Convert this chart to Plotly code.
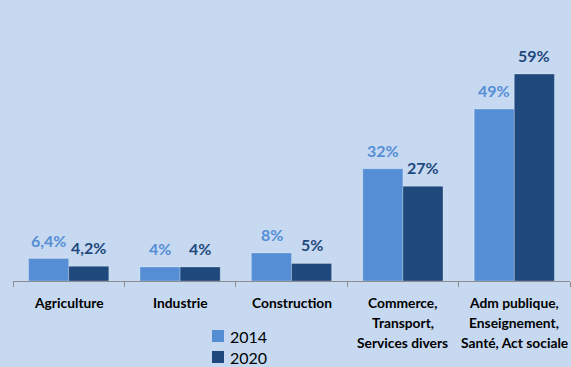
import plotly.graph_objects as go

categories = [
    "Agriculture",
    "Industrie",
    "Construction",
    "Commerce,<br>Transport,<br>Services divers",
    "Adm publique,<br>Enseignement,<br>Santé, Act sociale",
]
values_2014 = [6.4, 4, 8, 32, 49]
values_2020 = [4.2, 4, 5, 27, 59]
series_names = ["2014", "2020"]

BG = "#C6D9F1"
LIGHT = "#558ED5"
DARK = "#1F497D"
FONT = "Lato"


def pct(v):
    return f"{v:g}".replace(".", ",") + "%"


fig = go.Figure()
for name, vals, col in [(series_names[0], values_2014, LIGHT), (series_names[1], values_2020, DARK)]:
    fig.add_trace(go.Bar(
        name=name, x=categories, y=vals, showlegend=False,
        marker=dict(color=col, line=dict(color="rgba(255,255,255,0.25)", width=1)),
    ))

annotations = []
# value labels above each bar
for vals, col, shift in [(values_2014, LIGHT, -20), (values_2020, DARK, 20)]:
    for c, v in zip(categories, vals):
        annotations.append(dict(
            x=c, y=v, xref="x", yref="y", text=pct(v), showarrow=False,
            xshift=shift, yanchor="bottom", yshift=7,
            font=dict(family=FONT, size=16, color=col, weight="bold"),
        ))

# category labels under the axis, one annotation per line for wider line spacing
for c in categories:
    for i, line in enumerate(c.split("<br>")):
        annotations.append(dict(
            x=c, y=0, xref="x", yref="y", text=line, showarrow=False,
            yanchor="middle", yshift=-21 - 20 * i,
            font=dict(family=FONT, size=13.8, color="black", weight="bold"),
        ))

# legend: coloured squares with series names
shapes = []
for i, (name, col) in enumerate(zip(series_names, [LIGHT, DARK])):
    cy = 336 + 21 * i
    shapes.append(dict(
        type="rect", xref="paper", yref="paper",
        x0=(212 - 13) / 557, x1=(224 - 13) / 557,
        y0=(281 - (cy + 6)) / 228, y1=(281 - (cy - 6)) / 228,
        fillcolor=col, line=dict(width=0),
    ))
    annotations.append(dict(
        x=(228 - 13) / 557, y=(281 - cy) / 228, xref="paper", yref="paper",
        text=name, showarrow=False, xanchor="left", yanchor="middle",
        font=dict(family=FONT, size=16, color="black"),
    ))

fig.update_layout(
    width=571, height=367,
    margin=dict(l=13, r=1, t=53, b=86),
    paper_bgcolor=BG, plot_bgcolor=BG,
    barmode="group", bargap=0.28, bargroupgap=0,
    annotations=annotations, shapes=shapes,
    font=dict(family=FONT, color="black"),
    showlegend=False,
    xaxis=dict(
        showline=True, linecolor="#8C8C8C", linewidth=1,
        ticks="outside", tickson="boundaries", ticklen=5, tickcolor="#8C8C8C",
        showticklabels=False, automargin=False,
    ),
    yaxis=dict(range=[0, 65], visible=False, showgrid=False, automargin=False),
)

fig.write_html("out.html")
